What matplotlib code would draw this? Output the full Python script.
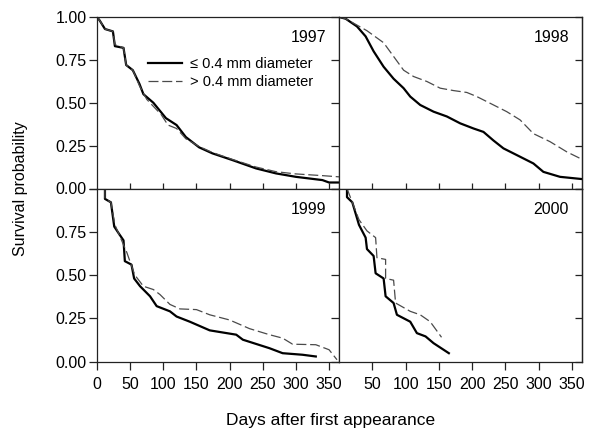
import matplotlib
matplotlib.use("Agg")
import matplotlib.pyplot as plt

plt.rcParams['font.family'] = ['Liberation Sans', 'DejaVu Sans']

years = ["1997", "1998", "1999", "2000"]
legend_labels = ["\u2264 0.4 mm diameter", "> 0.4 mm diameter"]
xtick_vals = [0, 50, 100, 150, 200, 250, 300, 350]
ytick_vals = [0.0, 0.25, 0.5, 0.75, 1.0]

# 1997
d97_small = [0, 4, 12, 24, 27, 40, 44, 54, 64, 70, 85, 104, 120, 134, 154, 174, 204, 240, 270, 300, 340, 350, 365]
s97_small = [1.0, 0.98, 0.93, 0.916, 0.83, 0.82, 0.72, 0.69, 0.61, 0.55, 0.50, 0.41, 0.37, 0.30, 0.24, 0.205, 0.166, 0.117, 0.088, 0.068, 0.049, 0.035, 0.035]
d97_large = [0, 4, 12, 24, 27, 40, 44, 54, 64, 75, 97, 107, 120, 134, 154, 174, 204, 240, 270, 300, 340, 365]
s97_large = [1.0, 0.98, 0.93, 0.916, 0.84, 0.82, 0.72, 0.69, 0.60, 0.52, 0.43, 0.37, 0.35, 0.29, 0.245, 0.21, 0.17, 0.125, 0.098, 0.085, 0.075, 0.068]

# 1998
d98_small = [0, 10, 27, 40, 52, 67, 82, 97, 107, 122, 142, 162, 182, 202, 217, 232, 247, 267, 292, 307, 332, 365]
s98_small = [1.0, 0.99, 0.945, 0.887, 0.80, 0.71, 0.64, 0.585, 0.536, 0.487, 0.448, 0.42, 0.38, 0.35, 0.33, 0.28, 0.234, 0.195, 0.146, 0.097, 0.068, 0.055]
d98_large = [0, 10, 42, 67, 82, 97, 112, 132, 152, 172, 192, 207, 227, 252, 272, 292, 317, 342, 365]
s98_large = [1.0, 0.99, 0.92, 0.85, 0.77, 0.69, 0.653, 0.624, 0.585, 0.571, 0.56, 0.536, 0.497, 0.448, 0.40, 0.32, 0.273, 0.214, 0.17]

# 1999
d99_small = [12, 12, 21, 26, 32, 40, 42, 52, 56, 65, 80, 90, 110, 120, 140, 170, 210, 220, 260, 280, 310, 330]
s99_small = [1.0, 0.94, 0.92, 0.78, 0.745, 0.70, 0.58, 0.56, 0.48, 0.435, 0.377, 0.32, 0.29, 0.26, 0.23, 0.18, 0.155, 0.126, 0.077, 0.048, 0.039, 0.029]
d99_large = [12, 12, 21, 27, 45, 57, 70, 85, 95, 110, 125, 150, 170, 200, 230, 260, 280, 295, 330, 350, 362]
s99_large = [1.0, 0.94, 0.92, 0.79, 0.63, 0.50, 0.435, 0.416, 0.387, 0.33, 0.304, 0.30, 0.27, 0.24, 0.19, 0.155, 0.135, 0.10, 0.097, 0.068, 0.01]

# 2000
d00_small = [12, 12, 20, 30, 40, 42, 52, 55, 67, 70, 82, 87, 107, 117, 130, 142, 165]
s00_small = [1.0, 0.95, 0.92, 0.79, 0.716, 0.65, 0.61, 0.51, 0.48, 0.377, 0.338, 0.27, 0.23, 0.164, 0.145, 0.106, 0.048]
d00_large = [12, 30, 42, 55, 57, 70, 70, 82, 85, 107, 122, 137, 154]
s00_large = [1.0, 0.82, 0.755, 0.716, 0.60, 0.59, 0.48, 0.47, 0.338, 0.29, 0.27, 0.23, 0.14]

series = [
    (d97_small, s97_small, d97_large, s97_large),
    (d98_small, s98_small, d98_large, s98_large),
    (d99_small, s99_small, d99_large, s99_large),
    (d00_small, s00_small, d00_large, s00_large),
]

W, H = 597, 432
fig = plt.figure(figsize=(W / 100, H / 100), dpi=100)

def rect(x0, y0, x1, y1):
    return [x0 / W, 1 - y1 / H, (x1 - x0) / W, (y1 - y0) / H]

rects = [rect(97, 17, 339, 188.5), rect(339, 17, 582, 188.5),
         rect(97, 188.5, 339, 361.5), rect(339, 188.5, 582, 361.5)]

fs = 11.5
dash_color = '#4a4a4a'
ink = '#222222'
for i, (r, yr, (ds, ss, dl, sl)) in enumerate(zip(rects, years, series)):
    ax = fig.add_axes(r)
    ax.plot(ds, ss, color='black', lw=1.6, label=legend_labels[0])
    ax.plot(dl, sl, color=dash_color, lw=0.9, dashes=(8, 3), label=legend_labels[1])
    ax.set_xlim(0, 365)
    ax.set_ylim(0, 1)
    for sp in ax.spines.values():
        sp.set_linewidth(0.9)
        sp.set_color(ink)
    ax.text(0.946, 0.883 if i < 2 else 0.878, yr, transform=ax.transAxes,
            ha='right', va='center', fontsize=fs)
    top = i < 2
    left = i % 2 == 0
    ax.set_xticks(xtick_vals if (left and not top) else [v for v in xtick_vals if v > 0])
    ax.set_yticks(ytick_vals)
    if top:
        ax.tick_params(axis='x', direction='in', length=4, width=0.9,
                       labelbottom=False, colors=ink)
    else:
        ax.tick_params(axis='x', direction='out', length=6, width=0.9,
                       labelsize=fs, pad=5, colors=ink, labelcolor='black')
    ax.tick_params(axis='y', direction='out', length=5.8, width=0.9,
                   labelleft=left, labelsize=fs, pad=1.7, colors=ink, labelcolor='black')
    if left:
        labs = ['%.2f' % v for v in ytick_vals]
        if not top:
            labs[-1] = ''
        ax.set_yticklabels(labs)
    else:
        sec = ax.secondary_yaxis('right')
        sec.set_yticks(ytick_vals)
        sec.tick_params(direction='in', length=4.8, width=0.9, labelright=False, colors=ink)
        sec.spines['right'].set_linewidth(0.9)
        sec.spines['right'].set_color(ink)
    if i == 0:
        ax.legend(loc='upper left', bbox_to_anchor=(0.21, 0.765), frameon=False,
                  fontsize=10.5, handlelength=2.33, handletextpad=0.55,
                  labelspacing=0.25, borderpad=0, borderaxespad=0)

fig.text(0.035, 0.5625, "Survival probability", rotation=90, ha='center', va='center', fontsize=11.5)
fig.text(0.553, 0.016, "Days after first appearance", ha='center', va='baseline', fontsize=12.5)

fig.savefig("out.png", dpi=100)
